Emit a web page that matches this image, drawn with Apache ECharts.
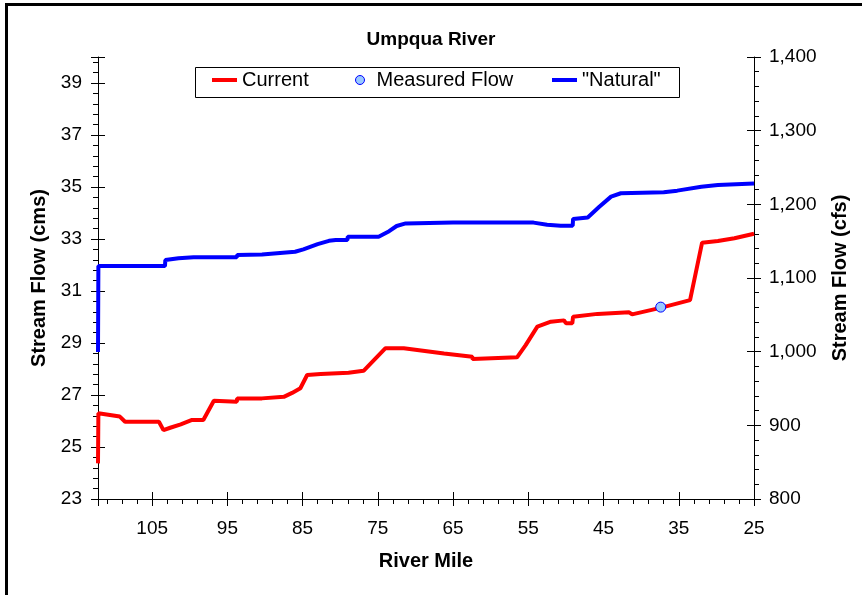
<!DOCTYPE html>
<html>
<head>
<meta charset="utf-8">
<title>Umpqua River</title>
<script src="https://cdn.jsdelivr.net/npm/echarts@6/dist/echarts.min.js"></script>
<style>
  html, body { margin: 0; padding: 0; background: #fff; }
  #chart { width: 862px; height: 595px; }
</style>
</head>
<body>
<div id="chart"></div>
<script>
// River mile (upstream on the left) and stream flow in cms
const currentMile = [112.2, 112.15, 111.9, 109.3, 108.6, 104.1, 103.5, 102.6, 101.2, 99.7, 98.2, 96.8,
  93.75, 93.7, 90.4, 90.35, 87.5, 86.4, 85.3, 84.4, 82.6, 78.9, 78.85, 76.9, 73.98, 71.55, 66.2,
  62.45, 62.4, 56.5, 55.35, 53.8, 52.0, 50.25, 50.0, 49.15, 49.05, 45.8, 41.6, 41.2, 37.3, 33.5,
  31.9, 29.8, 27.6, 25.0];
const currentFlow = [24.37, 26.30, 26.30, 26.17, 25.97, 25.97, 25.65, 25.74, 25.87, 26.04, 26.04, 26.78,
  26.74, 26.87, 26.87, 26.93, 26.93, 27.08, 27.26, 27.77, 27.81, 27.86, 27.93, 27.93, 28.80, 28.80, 28.60,
  28.47, 28.38, 28.45, 28.92, 29.63, 29.82, 29.87, 29.76, 29.76, 30.01, 30.12, 30.18, 30.10, 30.36, 30.65,
  32.86, 32.92, 33.03, 33.20];

const naturalMile = [112.2, 112.15, 103.3, 103.25, 101.5, 99.5, 93.75, 93.7, 90.4, 90.35, 86.0, 84.9,
  83.0, 81.5, 80.6, 79.05, 79.0, 74.9, 73.5, 72.5, 71.3, 65.0, 58.0, 54.3, 52.5, 50.7, 49.1, 49.05,
  47.1, 45.6, 44.0, 42.7, 37.0, 35.2, 32.0, 29.8, 25.0];
const naturalFlow = [28.65, 31.96, 31.96, 32.19, 32.26, 32.30, 32.30, 32.38, 32.40, 32.47, 32.51, 32.60,
  32.80, 32.93, 32.96, 32.96, 33.09, 33.09, 33.30, 33.50, 33.60, 33.63, 33.63, 33.63, 33.55, 33.51, 33.51, 33.77,
  33.83, 34.23, 34.63, 34.76, 34.80, 34.86, 35.01, 35.08, 35.13];

const measuredMile = [37.4];
const measuredFlow = [30.38];

// Axis ranges and labelled ticks
const mileRange = [25, 112.2];
const cmsRange = [23, 40];
const cfsRange = [800, 1400];
const mileTicks = [105, 95, 85, 75, 65, 55, 45, 35, 25];
const cmsTicks = [23, 25, 27, 29, 31, 33, 35, 37, 39];
const cfsTicks = [800, 900, 1000, 1100, 1200, 1300, 1400];

const FONT = 'Liberation Sans, Arial, Helvetica, sans-serif';
const near = (list, v) => list.some(t => Math.abs(t - v) < 1e-6);
const withCommas = v => String(v).replace(/\B(?=(\d{3})+(?!\d))/g, ',');
const pairs = (xs, ys) => xs.map((x, i) => [x, ys[i]]);

// Overlay axes that only draw extra ticks (inside halves and minor ticks)
function tickOnlyAxis(extra) {
  return Object.assign({
    type: 'value',
    gridIndex: 0,
    axisLine: { show: false },
    axisLabel: { show: false },
    splitLine: { show: false },
    minorTick: { show: false },
    axisPointer: { show: false },
    silent: true
  }, extra);
}

// One legend entry per component so each can be placed on its own
const LINE_ICON = 'path://M0,0H25V4H0Z';
function legendEntry(left, item, width, textGap) {
  return {
    left: left,
    top: 70,
    padding: 0,
    itemWidth: width,
    itemHeight: 9,
    symbolKeepAspect: true,
    selectedMode: false,
    textStyle: { fontFamily: FONT, fontSize: 20, color: '#000', padding: [0, 0, 0, textGap] },
    data: [item]
  };
}

const chart = echarts.init(document.getElementById('chart'), null, { renderer: 'canvas' });

chart.setOption({
  animation: false,
  backgroundColor: '#fff',
  textStyle: { fontFamily: FONT, color: '#000' },
  title: {
    text: 'Umpqua River',
    left: 'center',
    top: 30,
    padding: [0, 10, 0, 0],
    textStyle: { fontFamily: FONT, fontSize: 19, fontWeight: 'bold', color: '#000' }
  },
  legend: [
    legendEntry(212, { name: 'Current', icon: LINE_ICON, itemStyle: { color: '#ff0000' } }, 25, 0),
    legendEntry(355, { name: 'Measured Flow', icon: 'circle',
      itemStyle: { color: '#99c9ff', borderColor: '#0000ff', borderWidth: 1 } }, 9, 7),
    legendEntry(552, { name: '"Natural"', icon: LINE_ICON, itemStyle: { color: '#0000ff' } }, 25, 0)
  ],
  grid: { left: 98, right: 108, top: 57, bottom: 96, containLabel: false, outerBoundsMode: 'none' },
  xAxis: [
    {
      type: 'value',
      min: mileRange[0], max: mileRange[1], interval: 10, inverse: true,
      name: 'River Mile', nameLocation: 'middle', nameGap: 52,
      nameTextStyle: { fontFamily: FONT, fontSize: 20, fontWeight: 'bold', color: '#000' },
      axisLine: { show: true, onZero: false, lineStyle: { color: '#000', width: 1 } },
      axisTick: { show: true, inside: false, length: 7, lineStyle: { color: '#000' } },
      axisLabel: {
        show: true, margin: 20, fontFamily: FONT, fontSize: 19, color: '#000',
        showMinLabel: true, showMaxLabel: true, hideOverlap: false,
        formatter: v => near(mileTicks, v) ? String(Math.round(v)) : ''
      },
      splitLine: { show: false },
      minorTick: { show: false }
    },
    tickOnlyAxis({ position: 'bottom', min: mileRange[0], max: mileRange[1], interval: 10, inverse: true,
      axisTick: { show: true, inside: true, length: 7, lineStyle: { color: '#000' } } }),
    tickOnlyAxis({ position: 'bottom', min: mileRange[0], max: mileRange[1], interval: 2, inverse: true,
      axisTick: { show: true, inside: false, length: 5, lineStyle: { color: '#000' } } })
  ],
  yAxis: [
    {
      type: 'value', position: 'left',
      min: cmsRange[0], max: cmsRange[1], interval: 2,
      name: 'Stream Flow (cms)', nameLocation: 'middle', nameGap: 48, nameRotate: 90,
      nameTextStyle: { fontFamily: FONT, fontSize: 20, fontWeight: 'bold', color: '#000' },
      axisLine: { show: true, onZero: false, lineStyle: { color: '#000', width: 1 } },
      axisTick: { show: true, inside: false, length: 7, lineStyle: { color: '#000' } },
      axisLabel: {
        show: true, margin: 16, fontFamily: FONT, fontSize: 19, color: '#000',
        showMinLabel: true, showMaxLabel: true, hideOverlap: false,
        formatter: v => near(cmsTicks, v) ? String(Math.round(v)) : ''
      },
      splitLine: { show: false },
      minorTick: { show: false }
    },
    {
      type: 'value', position: 'right',
      min: cfsRange[0], max: cfsRange[1], interval: 100,
      name: 'Stream Flow (cfs)', nameLocation: 'middle', nameGap: 76, nameRotate: 90,
      nameTextStyle: { fontFamily: FONT, fontSize: 20, fontWeight: 'bold', color: '#000' },
      axisLine: { show: true, onZero: false, lineStyle: { color: '#000', width: 1 } },
      axisTick: { show: true, inside: false, length: 7, lineStyle: { color: '#000' } },
      axisLabel: {
        show: true, margin: 15, fontFamily: FONT, fontSize: 19, color: '#000',
        showMinLabel: true, showMaxLabel: true, hideOverlap: false,
        formatter: v => near(cfsTicks, v) ? withCommas(Math.round(v)) : ''
      },
      splitLine: { show: false },
      minorTick: { show: false }
    },
    tickOnlyAxis({ position: 'left', min: cmsRange[0], max: cmsRange[1], interval: 2,
      axisTick: { show: true, inside: true, length: 7, lineStyle: { color: '#000' } } }),
    tickOnlyAxis({ position: 'left', min: cmsRange[0], max: cmsRange[1], interval: 0.4,
      axisTick: { show: true, inside: false, length: 5, lineStyle: { color: '#000' } } }),
    tickOnlyAxis({ position: 'right', min: cfsRange[0], max: cfsRange[1], interval: 100,
      axisTick: { show: true, inside: true, length: 7, lineStyle: { color: '#000' } } }),
    tickOnlyAxis({ position: 'right', min: cfsRange[0], max: cfsRange[1], interval: 20,
      axisTick: { show: true, inside: false, length: 5, lineStyle: { color: '#000' } } })
  ],
  graphic: [
    // outer frame lines along the top and left edges
    { type: 'rect', left: 5, top: 3, shape: { width: 857, height: 3 }, style: { fill: '#000' }, silent: true },
    { type: 'rect', left: 5, top: 3, shape: { width: 3, height: 592 }, style: { fill: '#000' }, silent: true },
    // legend frame
    { type: 'rect', left: 193, top: 65, shape: { width: 484, height: 30 },
      style: { fill: 'none', stroke: '#000', lineWidth: 1 }, silent: true, z: 0 }
  ],
  series: [
    {
      name: 'Current', type: 'line', xAxisIndex: 0, yAxisIndex: 0,
      data: pairs(currentMile, currentFlow),
      symbol: 'none', showSymbol: false, clip: false, smooth: false,
      lineStyle: { color: '#ff0000', width: 4 }, itemStyle: { color: '#ff0000' },
      emphasis: { disabled: true }, z: 2
    },
    {
      name: '"Natural"', type: 'line', xAxisIndex: 0, yAxisIndex: 0,
      data: pairs(naturalMile, naturalFlow),
      symbol: 'none', showSymbol: false, clip: false, smooth: false,
      lineStyle: { color: '#0000ff', width: 4 }, itemStyle: { color: '#0000ff' },
      emphasis: { disabled: true }, z: 2
    },
    {
      name: 'Measured Flow', type: 'scatter', xAxisIndex: 0, yAxisIndex: 0,
      data: pairs(measuredMile, measuredFlow),
      symbol: 'circle', symbolSize: 10,
      itemStyle: { color: '#99c9ff', borderColor: '#0000ff', borderWidth: 1, opacity: 1 },
      emphasis: { disabled: true }, z: 3
    }
  ]
});
</script>
</body>
</html>
